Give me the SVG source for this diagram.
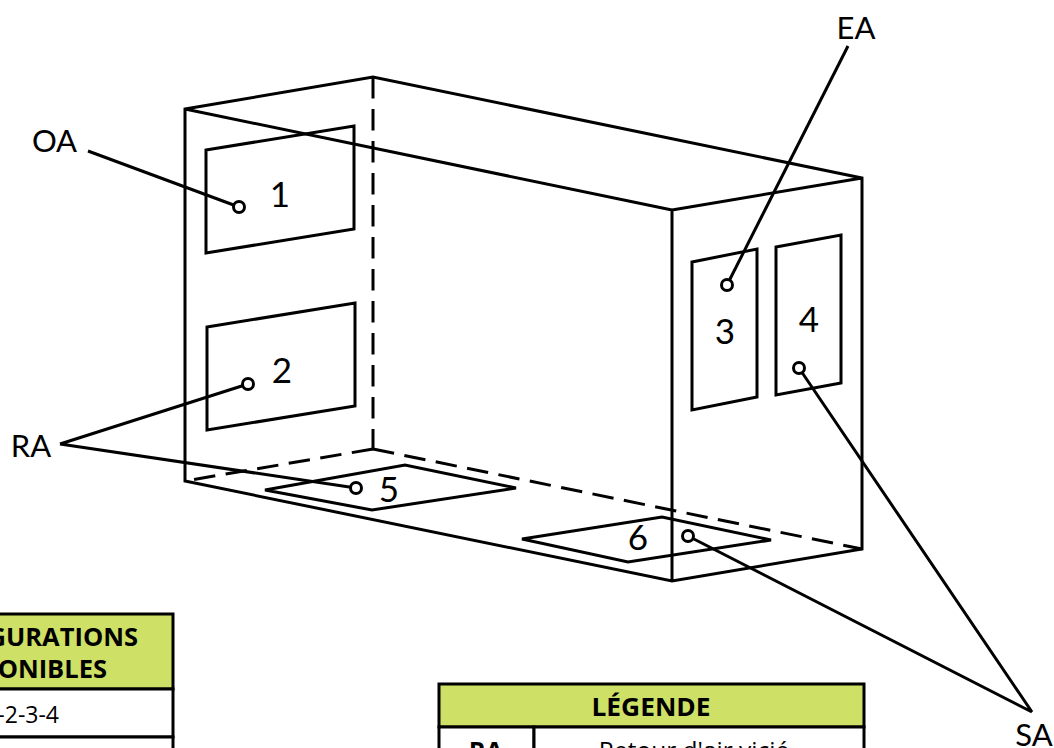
<svg xmlns="http://www.w3.org/2000/svg" width="1054" height="748" viewBox="0 0 1054 748">
<style>
.l{fill:none;stroke:#000;stroke-width:3;stroke-linejoin:miter}
.d{stroke-dasharray:21.5 10.5}
.c{fill:#fff;stroke:#000;stroke-width:3}
.t{font-family:"Lato","Open Sans",sans-serif;fill:#000}
.big{font-size:35px}
.lab{font-size:31px}
.o{font-family:"Open Sans","Noto Sans",sans-serif}
.b{font-weight:700;font-size:25.5px}
.s{font-size:24.5px}
.hd{fill:#cee066;stroke:#000;stroke-width:3}
.cell{fill:#fff;stroke:#000;stroke-width:3}
</style>
<g id="box">
<path class="l" d="M185 109L373 77L862 178V549L672 581L185 481ZM185 109L672 210V581M672 210L862 178"/>
<path class="l d" d="M373 77V449M373 449L185 481M373 449L862 549"/>
</g>
<g id="node-1"><path class="l" d="M206 150L354 126V229L206 253Z"/><text class="t big" x="280" y="207" text-anchor="middle">1</text></g>
<g id="node-2"><path class="l" d="M207 327L355 303V406L207 430Z"/><text class="t big" x="282" y="383" text-anchor="middle">2</text></g>
<g id="node-3"><path class="l" d="M692 262L757 249V397L692 410Z"/><text class="t big" x="725" y="344" text-anchor="middle">3</text></g>
<g id="node-4"><path class="l" d="M776 247L841 235V383L776 395Z"/><text class="t big" x="809" y="332" text-anchor="middle">4</text></g>
<g id="node-5"><path class="l" d="M265 490L405 465L516 488L372 510Z"/><text class="t big" x="389" y="502" text-anchor="middle">5</text></g>
<g id="node-6"><path class="l" d="M522 539L662 517L771 540L628 562Z"/><text class="t big" x="638" y="550" text-anchor="middle">6</text></g>
<g id="connectors">
<path class="l" d="M88 151L239 207"/>
<path class="l" d="M848 46L727 285"/>
<path class="l" d="M60 444L248 384M60 444L356 488"/>
<path class="l" d="M1032 712L799 368M1032 712L688 536"/>
<circle class="c" cx="239" cy="207" r="5.5"/>
<circle class="c" cx="248" cy="384" r="5.5"/>
<circle class="c" cx="727" cy="285" r="5.5"/>
<circle class="c" cx="799" cy="368" r="5.5"/>
<circle class="c" cx="356" cy="488" r="5.5"/>
<circle class="c" cx="688" cy="536" r="5.5"/>
</g>
<g id="label-oa"><text class="t lab" x="54.500" y="152" text-anchor="middle">OA</text></g>
<g id="label-ea"><text class="t lab" x="856" y="39" text-anchor="middle">EA</text></g>
<g id="label-ra"><text class="t lab" x="31" y="457" text-anchor="middle">RA</text></g>
<g id="label-sa"><text class="t lab" x="1034" y="746" text-anchor="middle">SA</text></g>
<g id="table-configurations">
<rect class="hd" x="-60" y="614" width="233" height="75"/>
<rect class="cell" x="-60" y="689" width="233" height="48"/>
<rect class="cell" x="-60" y="737" width="233" height="48"/>
<text class="t o b" x="138" y="646" text-anchor="end">CONFIGURATIONS</text>
<text class="t o b" x="107" y="678" text-anchor="end">DISPONIBLES</text>
<text class="t o" font-size="23" x="59" y="723" text-anchor="end">1-2-3-4</text>
</g>
<g id="table-legende">
<rect class="hd" x="439" y="684" width="425" height="43"/>
<rect class="cell" x="439" y="727" width="95" height="50"/>
<rect class="cell" x="534" y="727" width="330" height="50"/>
<text class="t o b" x="651" y="716" text-anchor="middle" textLength="119" lengthAdjust="spacingAndGlyphs">LÉGENDE</text>
<text class="t o b" x="486" y="760" text-anchor="middle">RA</text>
<text class="t o s" x="694" y="759" text-anchor="middle">Retour d'air vicié</text>
</g>
</svg>
